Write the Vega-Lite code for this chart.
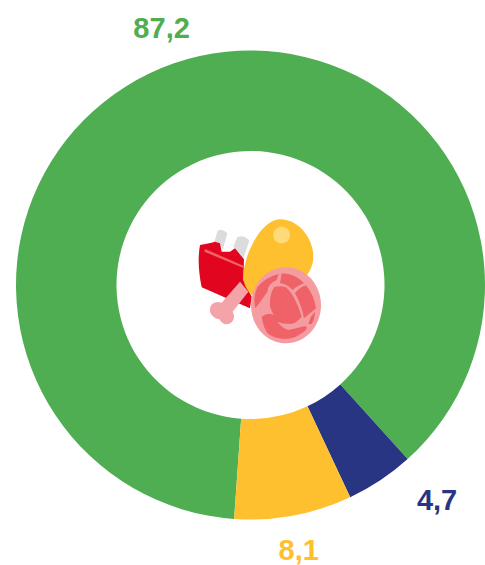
{"$schema":"https://vega.github.io/schema/vega-lite/v6.json","width":485,"height":565,"autosize":{"type":"fit","contains":"padding"},"padding":0,"background":"white","view":{"stroke":null},
"data":{"values":[{"cat":"A","value":87.2,"label":"87,2","ord":1},{"cat":"B","value":4.7,"label":"4,7","ord":2},{"cat":"C","value":8.1,"label":"8,1","ord":3}]},
"encoding":{"theta":{"field":"value","type":"quantitative","stack":true,"scale":{"domain":[0,100],"range":[3.2114,9.4946]}},"order":{"field":"ord","type":"ordinal"},"color":{"field":"cat","type":"nominal","legend":null,"scale":{"domain":["A","B","C"],"range":["#4fae51","#283583","#fec02e"]}}},
"layer":[
{"mark":{"type":"arc","x":250.5,"y":285,"innerRadius":134,"outerRadius":234.5}},
{"mark":{"type":"text","x":250,"y":285,"radius":271,"font":"Liberation Sans","fontWeight":"bold","fontSize":29,"align":"center","baseline":"middle","dx":{"expr":"datum.label=='4,7'?37:datum.label=='8,1'?-1:0"},"dy":{"expr":"datum.label=='4,7'?-10:0"}},"encoding":{"text":{"field":"label","type":"nominal"}}},
{"data":{"values":[{"part":"prong"}]},"encoding":{},"mark":{"type":"point","x":180,"y":200,"size":0.4444,"filled":true,"opacity":1,"strokeWidth":0,"fill":"#dcdcdc","shape":"M103,125L113,92Q125,84 142,100L128,150L120,130ZM160,140L172,112Q190,102 208,122L190,175L165,145Z"}},
{"data":{"values":[{"part":"handle"}]},"encoding":{},"mark":{"type":"point","x":180,"y":200,"size":0.4444,"filled":true,"opacity":1,"strokeWidth":0,"fill":"#e2051f","shape":"M60,135L95,128L105,125L120,130L125,155L150,155L165,145L192,178L190,240L215,290L210,325L130,290L65,262Q50,190 60,135Z"}},
{"data":{"values":[{"part":"stripe"}]},"encoding":{},"mark":{"type":"point","x":180,"y":200,"size":0.4444,"filled":true,"opacity":1,"strokeWidth":0,"fill":"#ee6268","shape":"M75,147L190,197L190,204L73,155Z"}},
{"data":{"values":[{"part":"egg"}]},"encoding":{},"mark":{"type":"point","x":180,"y":200,"size":0.4444,"filled":true,"opacity":1,"strokeWidth":0,"fill":"#fec02e","shape":"M190,230C190,170 240,60 300,58C360,58 400,120 400,170C400,210 370,250 330,260L215,285C200,270 190,250 190,230Z"}},
{"data":{"values":[{"part":"yolk"}]},"encoding":{},"mark":{"type":"point","x":180,"y":200,"size":0.4444,"filled":true,"opacity":1,"strokeWidth":0,"fill":"#fedb78","shape":"M280,105C280,72 330,72 330,105C330,138 280,138 280,105Z"}},
{"data":{"values":[{"part":"bone"}]},"encoding":{},"mark":{"type":"point","x":180,"y":200,"size":0.4444,"filled":true,"opacity":1,"strokeWidth":0,"fill":"#f4a3a8","shape":"M180,245L205,275L158,335C175,365 135,390 118,358C75,350 85,295 125,308Z"}},
{"data":{"values":[{"part":"meat"}]},"encoding":{},"mark":{"type":"point","x":180,"y":200,"size":0.4444,"filled":true,"opacity":1,"strokeWidth":0,"fill":"#f49ca0","shape":"M213,316C213,253 260,202 318,202C376,202 423,253 423,316C423,379 376,430 318,430C260,430 213,379 213,316Z"}},
{"data":{"values":[{"part":"marbling"}]},"encoding":{},"mark":{"type":"point","x":180,"y":200,"size":0.4444,"filled":true,"opacity":1,"strokeWidth":0,"fill":"#ee6268","shape":"M232,262Q255,232 296,222L290,240Q265,250 262,275Q245,300 226,325Q218,290 232,262ZM305,220Q345,220 372,250Q350,258 338,270Q318,250 300,250ZM378,256Q402,285 408,325Q390,340 372,355Q365,315 345,280Q358,262 378,256ZM282,262Q300,255 318,262Q345,285 365,350Q350,368 335,372Q310,372 290,365Q280,345 270,320Q268,285 282,262ZM245,350Q265,335 280,345Q300,385 325,390Q350,385 375,378Q395,385 345,412Q300,425 265,402Q250,385 245,350ZM392,352L405,335Q405,355 395,372L385,372Z"}}
]}
